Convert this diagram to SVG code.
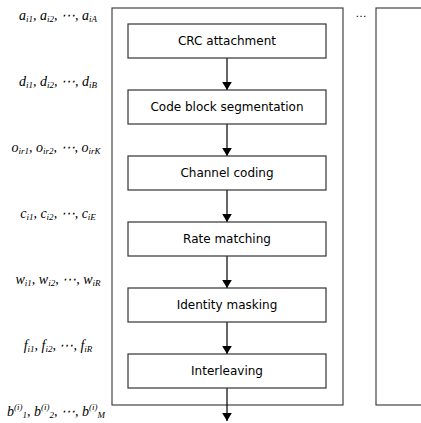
<svg xmlns="http://www.w3.org/2000/svg" width="421" height="423" viewBox="0 0 421 423">
<defs>
<marker id="ah" viewBox="0 0 10 12" refX="10" refY="6" markerWidth="8" markerHeight="10" markerUnits="userSpaceOnUse" orient="auto">
<path d="M0,0 L10,6 L0,12 z" fill="#000"/>
</marker>
</defs>
<style>
.frame{fill:none;stroke:#444;stroke-width:1.2}
.box{fill:#fff;stroke:#333;stroke-width:1.2}
.lbl{font-family:"DejaVu Sans",Verdana,sans-serif;font-size:12px;fill:#000;text-anchor:middle}
.math{font-family:"Liberation Serif","Times New Roman",serif;font-style:italic;font-size:14px;fill:#000;text-anchor:middle}
.sub{font-size:9px}
.conn{stroke:#000;stroke-width:1.2;fill:none;marker-end:url(#ah)}
</style>
<rect class="frame" x="112" y="8" width="231" height="397"/>
<rect class="frame" x="376" y="8" width="80" height="397"/>
<text x="361" y="17" style="font-family:'DejaVu Sans',sans-serif;font-size:11px;text-anchor:middle">…</text>
<g id="connectors">
<line class="conn" x1="227" y1="58" x2="227" y2="90"/>
<line class="conn" x1="227" y1="124" x2="227" y2="156"/>
<line class="conn" x1="227" y1="190" x2="227" y2="222"/>
<line class="conn" x1="227" y1="256" x2="227" y2="288"/>
<line class="conn" x1="227" y1="322" x2="227" y2="354"/>
<line class="conn" x1="227" y1="388" x2="227" y2="421"/>
</g>
<g id="crc"><rect class="box" x="128" y="24" width="198" height="34"/><text class="lbl" x="227" y="45">CRC attachment</text></g>
<g id="seg"><rect class="box" x="128" y="90" width="198" height="34"/><text class="lbl" x="227" y="111">Code block segmentation</text></g>
<g id="coding"><rect class="box" x="128" y="156" width="198" height="34"/><text class="lbl" x="227" y="177">Channel coding</text></g>
<g id="rate"><rect class="box" x="128" y="222" width="198" height="34"/><text class="lbl" x="227" y="243">Rate matching</text></g>
<g id="mask"><rect class="box" x="128" y="288" width="198" height="34"/><text class="lbl" x="227" y="309">Identity masking</text></g>
<g id="inter"><rect class="box" x="128" y="354" width="198" height="34"/><text class="lbl" x="227" y="375">Interleaving</text></g>
<g id="labels">
<text class="math" x="58" y="20">a<tspan class="sub" dy="2">i1</tspan><tspan dy="-2">, a</tspan><tspan class="sub" dy="2">i2</tspan><tspan dy="-2">, ⋯, a</tspan><tspan class="sub" dy="2">iA</tspan></text>
<text class="math" x="58" y="86">d<tspan class="sub" dy="2">i1</tspan><tspan dy="-2">, d</tspan><tspan class="sub" dy="2">i2</tspan><tspan dy="-2">, ⋯, d</tspan><tspan class="sub" dy="2">iB</tspan></text>
<text class="math" x="56" y="152">o<tspan class="sub" dy="2">ir1</tspan><tspan dy="-2">, o</tspan><tspan class="sub" dy="2">ir2</tspan><tspan dy="-2">, ⋯, o</tspan><tspan class="sub" dy="2">irK</tspan></text>
<text class="math" x="58" y="218">c<tspan class="sub" dy="2">i1</tspan><tspan dy="-2">, c</tspan><tspan class="sub" dy="2">i2</tspan><tspan dy="-2">, ⋯, c</tspan><tspan class="sub" dy="2">iE</tspan></text>
<text class="math" x="58" y="284">w<tspan class="sub" dy="2">i1</tspan><tspan dy="-2">, w</tspan><tspan class="sub" dy="2">i2</tspan><tspan dy="-2">, ⋯, w</tspan><tspan class="sub" dy="2">iR</tspan></text>
<text class="math" x="58" y="350">f<tspan class="sub" dy="2">i1</tspan><tspan dy="-2">, f</tspan><tspan class="sub" dy="2">i2</tspan><tspan dy="-2">, ⋯, f</tspan><tspan class="sub" dy="2">iR</tspan></text>
<text class="math" x="56" y="416">b<tspan class="sub" dy="-6">(i)</tspan><tspan class="sub" dy="8">1</tspan><tspan dy="-2">, b</tspan><tspan class="sub" dy="-6">(i)</tspan><tspan class="sub" dy="8">2</tspan><tspan dy="-2">, ⋯, b</tspan><tspan class="sub" dy="-6">(i)</tspan><tspan class="sub" dy="8">M</tspan></text>
</g>
</svg>
